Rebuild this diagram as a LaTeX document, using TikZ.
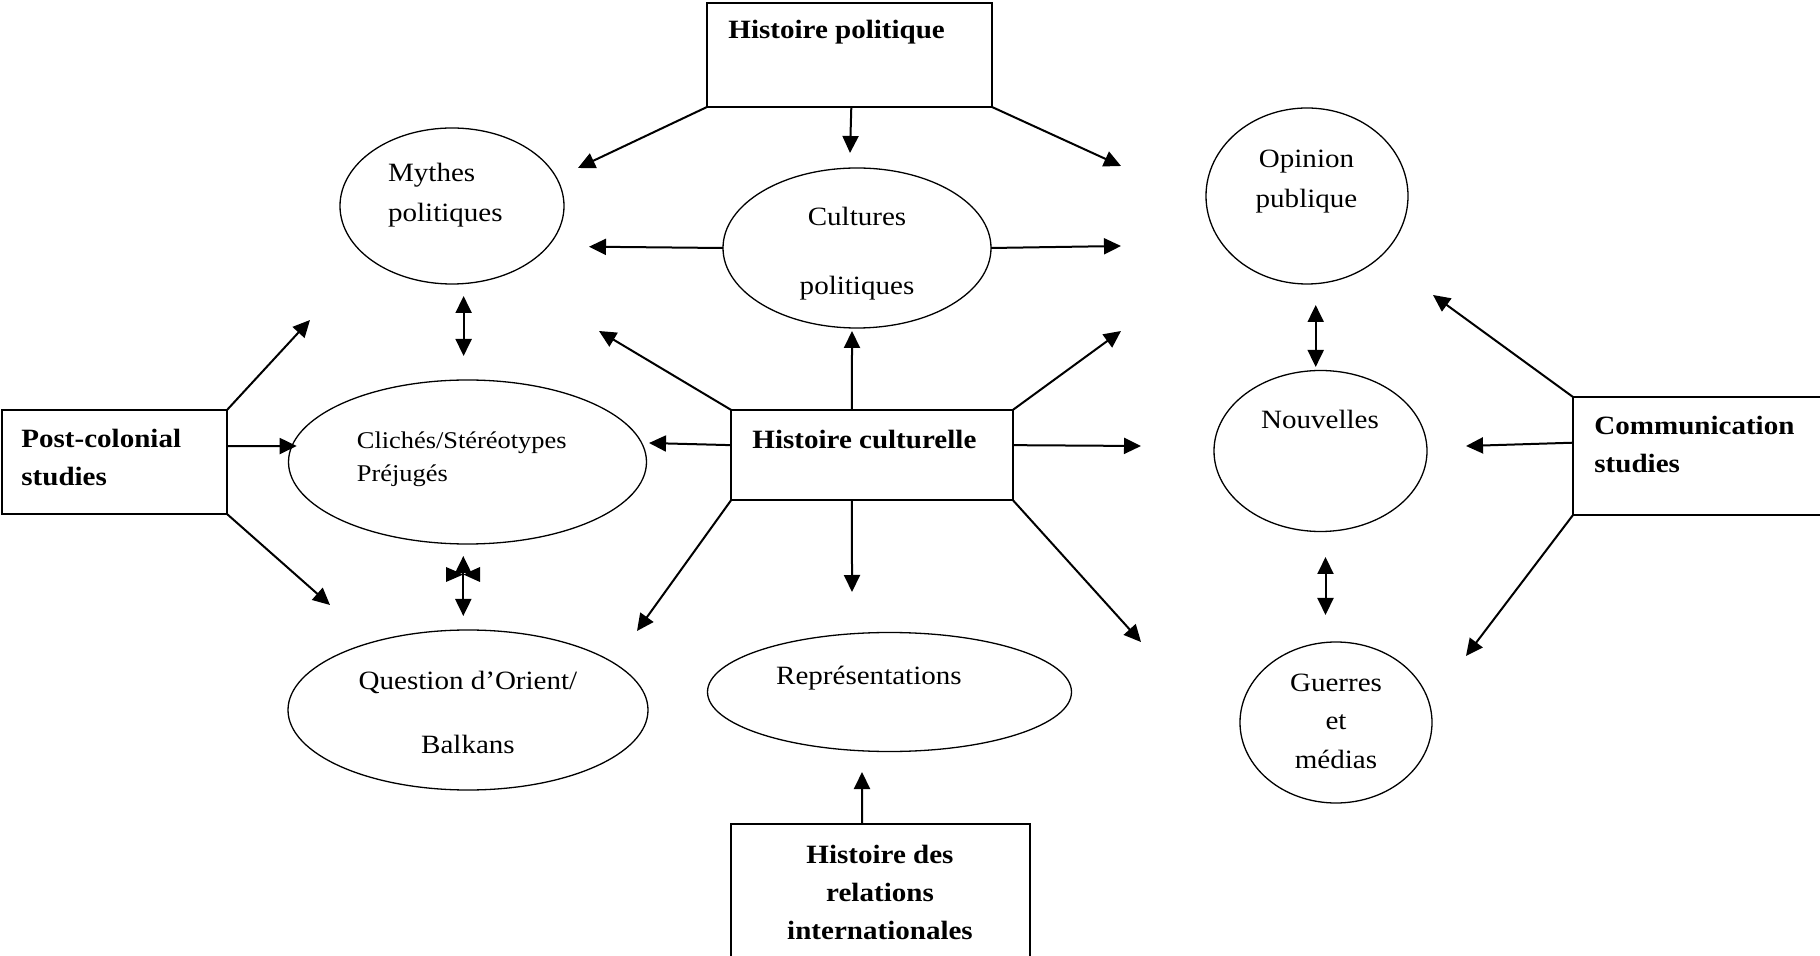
\documentclass[tikz,border=0pt]{standalone}
\usepackage{fontspec}
\setmainfont{Liberation Serif}[FakeStretch=1.1]
\usepackage{tikz}
\usetikzlibrary{arrows.meta}
\usetikzlibrary{shapes.geometric}

\begin{document}
\begin{tikzpicture}[x=0.5pt,y=-0.5pt]
\tikzset{bubble/.style={draw=black, line width=0.65pt, ellipse, inner sep=0pt, outer sep=0pt}}
\tikzset{frame/.style={draw=black, line width=1pt, rectangle, inner sep=0pt, outer sep=0pt}}
\tikzset{txt/.style={inner sep=0pt, font=\fontsize{13.2}{20}\selectfont}}
\tikzset{link/.style={line width=1pt, -{Triangle[length=8.5pt,width=8pt]}}}
\tikzset{both/.style={line width=1pt, {Triangle[length=8.5pt,width=8pt]}-{Triangle[length=8.5pt,width=8pt]}}}

\useasboundingbox (0,0) rectangle (1820,956);

   \foreach \name/\x/\y/\w/\h in {%
     myth/452/206/112/78,%
     cult/857/248/134/80,%
     opin/1307/196/101/88,%
     cli/467.5/462/179/82,%
     nouv/1320.5/451/106.5/80.5,%
     ques/468/710/180/80,%
     repr/889.5/692/182/59.5,%
     guer/1336/722.5/96/80.5}
      \node[bubble, minimum width=\w pt, minimum height=\h pt] (\name) at (\x,\y) {};

   \foreach \name/\x/\y/\w/\h in {%
     hp/849.5/55/142.5/52,%
     hc/872/455/140.75/45,%
     pc/114.5/462/112.5/52,%
     cs/1699.5/456/126.5/59,%
     hri/880.5/893/149.5/69}
      \node[frame, minimum width=\w pt, minimum height=\h pt] (\name) at (\x,\y) {};

% multi-line texts sit on the baseline of their last line
\node[txt, anchor=base west, align=left] (myth text) at (387.7,221.7) {Mythes\\politiques};
\node[txt, anchor=base, align=center, font=\fontsize{13.2}{34.5}\selectfont] (cult text) at (857,295) {Cultures\\politiques};
\node[txt, anchor=base, align=center] (opin text) at (1306.5,207.3) {Opinion\\publique};
\node[txt, anchor=base west, align=left, font=\fontsize{12}{16.7}\selectfont] (cli text) at (356.5,481.7) {Clichés/Stéréotypes\\Préjugés};
\node[txt, anchor=base] (nouv text) at (1320,429) {Nouvelles};
\node[txt, anchor=base, align=center, font=\fontsize{13.2}{32}\selectfont] (ques text) at (468,753.3) {Question d’Orient/\\Balkans};
\node[txt, anchor=base west] (repr text) at (775.8,684.3) {Représentations};
\node[txt, anchor=base, align=center, font=\fontsize{13.2}{19.2}\selectfont] (guer text) at (1336,768.3) {Guerres\\et\\médias};
\node[txt, anchor=base west, font=\fontsize{13.2}{20}\selectfont\bfseries] (hp text) at (728,39) {Histoire politique};
\node[txt, anchor=base west, font=\fontsize{13.2}{20}\selectfont\bfseries] (hc text) at (752,448.3) {Histoire culturelle};
\node[txt, anchor=base west, align=left, font=\fontsize{13.2}{19.4}\selectfont\bfseries] (pc text) at (21,486) {Post-colonial\\studies};
\node[txt, anchor=base west, align=left, font=\fontsize{13.2}{19}\selectfont\bfseries] (cs text) at (1594,473) {Communication\\studies};
\node[txt, anchor=base, align=center, font=\fontsize{13.2}{19}\selectfont\bfseries] (hri text) at (880,939.3) {Histoire des\\relations\\internationales};

   \foreach \name/\x/\y in {%
     a1/578/168, a2/850/153, a3/1121/166, a4/589/246.7, a5/1121/246,%
     b1/599/331, b2/852/331, b3/1121/331, b4/649/443, b5/1141/446,%
     b6/637/631, b7/852/592, b8/1141/642,%
     c1/310/320, c2/296.7/446, c3/330/605,%
     d1/862/772,%
     e1/1433/295, e2/1466/446, e3/1466/656}
      \coordinate (\name) at (\x,\y);

   \foreach \from/\to in {%
     hp.south west/a1, hp.272/a2, hp.south east/a3, cult.west/a4, cult.east/a5,%
     hc.north west/b1, hc.114/b2, hc.north east/b3, hc.176/b4, hc.4/b5,%
     hc.south west/b6, hc.246/b7, hc.south east/b8,%
     pc.north east/c1, pc.8/c2, pc.south east/c3,%
     hri.105/d1,%
     cs.north west/e1, cs.174/e2, cs.south west/e3}
      \draw[link] (\from) -- (\to);

   \foreach \name/\x/\ya/\yb in {%
     m/463.6/296/356, q/463.3/556/616, o/1315.7/305/367, g/1325.5/557/615}
   {
      \coordinate (\name top) at (\x,\ya);
      \coordinate (\name bot) at (\x,\yb);
      \draw[both] (\name top) -- (\name bot);
   }

\fill (446,567) -- (446,582) -- (463.3,574.5) -- cycle
      (480,567) -- (480,582) -- (463.3,574.5) -- cycle;
\end{tikzpicture}
\end{document}
